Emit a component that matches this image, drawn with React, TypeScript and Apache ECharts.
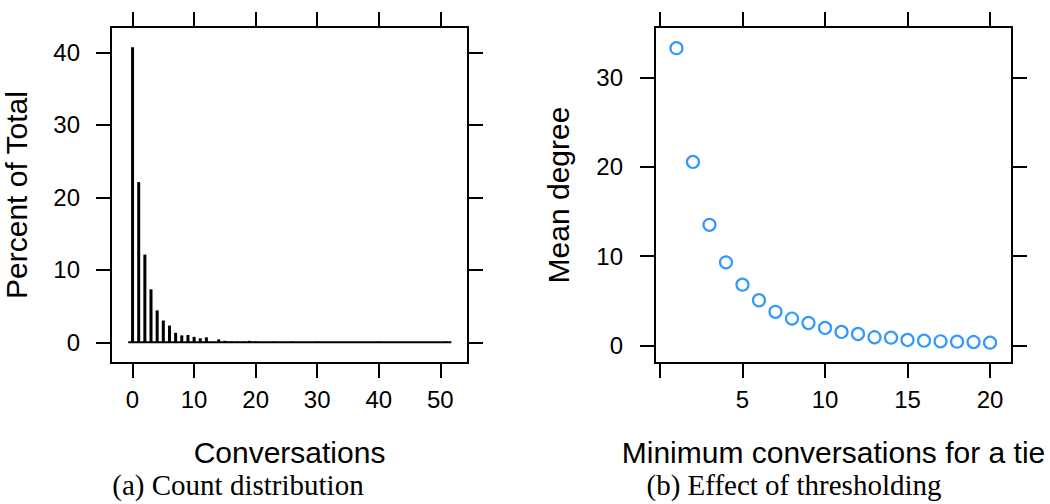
import React, { useEffect, useRef } from "react";
import * as echarts from "echarts";

// (a) Count distribution
const conversations = [0, 1, 2, 3, 4, 5, 6, 7, 8, 9, 10, 11, 12, 13, 14, 15, 16, 17, 18, 19, 20, 23, 26, 30, 40, 51];
const percentOfTotal = [40.7, 22.1, 12.1, 7.3, 4.4, 3.0, 2.3, 1.3, 0.95, 1.0, 0.75, 0.55, 0.68, 0.05, 0.4, 0.2, 0.1, 0.1, 0.1, 0.2, 0.12, 0.1, 0.1, 0.1, 0.1, 0.1];
const baselineSpan = [-0.7, 51.8];
const countRange = [-3.5, 54.5];
const percentRange = [-2.86, 43.5];
const countTicks = [0, 10, 20, 30, 40, 50];
const percentTicks = [0, 10, 20, 30, 40];

// (b) Effect of thresholding
const minConversations = [1, 2, 3, 4, 5, 6, 7, 8, 9, 10, 11, 12, 13, 14, 15, 16, 17, 18, 19, 20];
const meanDegree = [33.3, 20.55, 13.5, 9.3, 6.8, 5.05, 3.75, 3.0, 2.5, 1.95, 1.5, 1.27, 0.9, 0.86, 0.6, 0.52, 0.45, 0.41, 0.37, 0.3];
const thresholdRange = [-0.3, 21.33];
const degreeRange = [-1.98, 35.67];
const thresholdTicks = [0, 5, 10, 15, 20];
const thresholdTickLabels = [5, 10, 15, 20];
const degreeTicks = [0, 10, 20, 30];

const SANS = "'Liberation Sans', Arial, Helvetica, sans-serif";
const SERIF = "'Liberation Serif', 'Times New Roman', serif";

function axis(
  gridIndex: number,
  position: string,
  range: number[],
  ticks: number[],
  labels: number[] | null,
  margin: number
) {
  return {
    type: "value",
    gridIndex,
    position,
    min: range[0],
    max: range[1],
    axisLine: { show: true, onZero: false, lineStyle: { color: "#000", width: 2 } },
    axisTick: {
      show: true,
      inside: false,
      length: 15,
      customValues: ticks,
      lineStyle: { color: "#000", width: 2 },
    },
    axisLabel: labels
      ? {
          show: true,
          customValues: labels,
          margin,
          fontSize: 24,
          color: "#000",
          fontFamily: SANS,
        }
      : { show: false },
    splitLine: { show: false },
  };
}

export default function App() {
  const ref = useRef<HTMLDivElement>(null);

  useEffect(() => {
    if (!ref.current) return;
    const chart = echarts.init(ref.current, null, { renderer: "svg" });
    chart.setOption({
      animation: false,
      backgroundColor: "#fff",
      grid: [
        { left: 111, top: 27, width: 357, height: 336, containLabel: false },
        { left: 655, top: 27, width: 357, height: 336, containLabel: false },
      ],
      xAxis: [
        axis(0, "bottom", countRange, countTicks, countTicks, 24),
        axis(0, "top", countRange, countTicks, null, 0),
        axis(1, "bottom", thresholdRange, thresholdTicks, thresholdTickLabels, 24),
        axis(1, "top", thresholdRange, thresholdTicks, null, 0),
      ],
      yAxis: [
        axis(0, "left", percentRange, percentTicks, percentTicks, 31),
        axis(0, "right", percentRange, percentTicks, null, 0),
        axis(1, "left", degreeRange, degreeTicks, degreeTicks, 32),
        axis(1, "right", degreeRange, degreeTicks, null, 0),
      ],
      series: [
        {
          type: "line",
          xAxisIndex: 0,
          yAxisIndex: 0,
          data: baselineSpan.map((x) => [x, 0]),
          symbol: "none",
          lineStyle: { color: "#000", width: 2 },
          silent: true,
        },
        {
          type: "bar",
          xAxisIndex: 0,
          yAxisIndex: 0,
          data: conversations.map((c, i) => [c, percentOfTotal[i]]),
          barWidth: 3,
          itemStyle: { color: "#000" },
        },
        {
          type: "scatter",
          xAxisIndex: 2,
          yAxisIndex: 2,
          data: minConversations.map((m, i) => [m, meanDegree[i]]),
          symbol: "circle",
          symbolSize: 12,
          itemStyle: { color: "rgba(255,255,255,0)", borderColor: "#0080ff", borderWidth: 2.2 },
        },
      ],
      graphic: [
        {
          type: "text",
          x: 16,
          y: 195,
          rotation: Math.PI / 2,
          style: { text: "Percent of Total", font: `30px ${SANS}`, fill: "#000", align: "center", verticalAlign: "middle" },
        },
        {
          type: "text",
          x: 289.5,
          y: 452,
          style: { text: "Conversations", font: `30px ${SANS}`, fill: "#000", align: "center", verticalAlign: "middle" },
        },
        {
          type: "text",
          x: 238,
          y: 485,
          style: { text: "(a) Count distribution", font: `29px ${SERIF}`, fill: "#000", align: "center", verticalAlign: "middle" },
        },
        {
          type: "text",
          x: 558,
          y: 195,
          rotation: Math.PI / 2,
          style: { text: "Mean degree", font: `30px ${SANS}`, fill: "#000", align: "center", verticalAlign: "middle" },
        },
        {
          type: "text",
          x: 833.5,
          y: 452,
          style: { text: "Minimum conversations for a tie", font: `30px ${SANS}`, fill: "#000", align: "center", verticalAlign: "middle" },
        },
        {
          type: "text",
          x: 794,
          y: 485,
          style: { text: "(b) Effect of thresholding", font: `29px ${SERIF}`, fill: "#000", align: "center", verticalAlign: "middle" },
        },
      ],
    });
    return () => chart.dispose();
  }, []);

  return (
    <div
      ref={ref}
      style={{ position: "fixed", left: 0, top: 0, width: 1050, height: 504, background: "#fff" }}
    />
  );
}
